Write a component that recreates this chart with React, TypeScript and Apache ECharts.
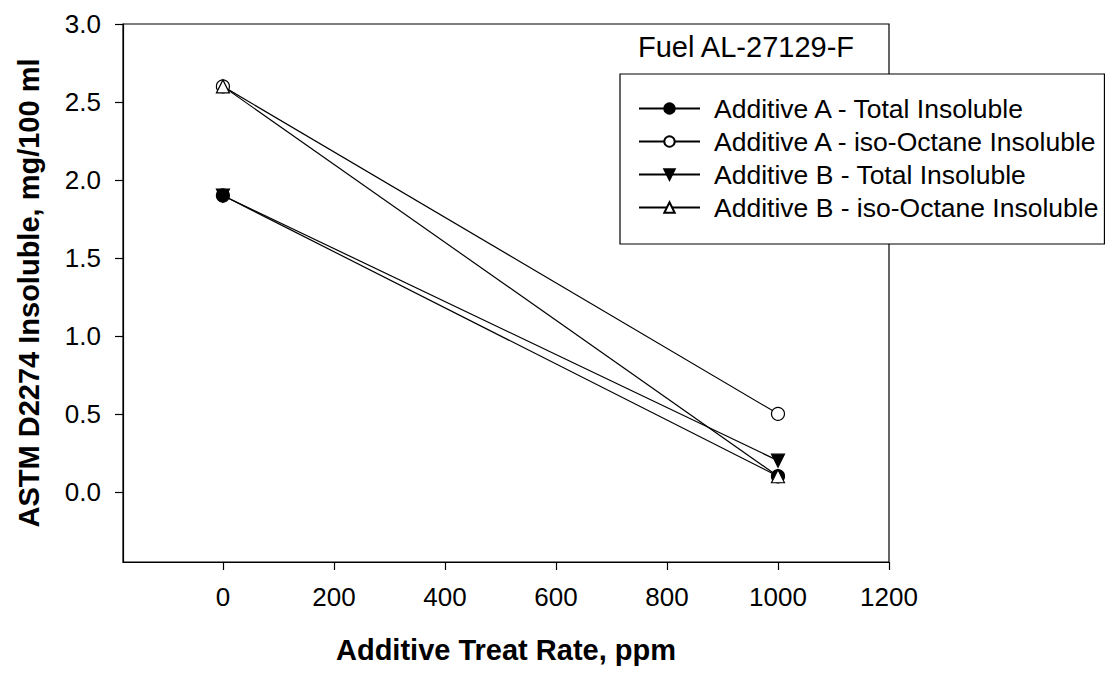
import React, { useEffect, useRef } from "react";
import * as echarts from "echarts";

const treatRates = [0, 1000];
const additiveATotal = [1.9, 0.1];
const additiveAIso = [2.6, 0.5];
const additiveBTotal = [1.9, 0.2];
const additiveBIso = [2.6, 0.1];
const xTicks = [0, 200, 400, 600, 800, 1000, 1200];
const yTicks = [0, 0.5, 1.0, 1.5, 2.0, 2.5, 3.0];
const seriesNames = [
  "Additive A - Total Insoluble",
  "Additive A - iso-Octane Insoluble",
  "Additive B - Total Insoluble",
  "Additive B - iso-Octane Insoluble",
];
const fuelLabel = "Fuel AL-27129-F";

const FONT = "'Liberation Sans', Arial, sans-serif";

export default function App() {
  const ref = useRef<HTMLDivElement>(null);
  useEffect(() => {
    if (!ref.current) return;
    const chart = echarts.init(ref.current, undefined, { renderer: "svg" });
    const pair = (ys: number[]) => treatRates.map((x, i) => [x, ys[i]]);
    const invTri = "path://M0,0 L10,0 L5,9 Z";
    const mk = (name: string, data: number[], symbol: string, fill: string, size: number) => ({
      name,
      type: "line",
      data: pair(data),
      symbol,
      symbolSize: size,
      showAllSymbol: true,
      lineStyle: { color: "#000", width: 1.2 },
      itemStyle: { color: fill, borderColor: "#000", borderWidth: 1.2 },
      emphasis: { disabled: true },
    });
    chart.setOption({
      animation: false,
      backgroundColor: "#fff",
      textStyle: { fontFamily: FONT },
      grid: {
        left: 123,
        right: 216,
        top: 24,
        bottom: 111,
        show: true,
        borderColor: "#000",
        borderWidth: 1.2,
        backgroundColor: "transparent",
      },
      xAxis: {
        type: "value",
        min: -180,
        max: 1200,
        name: "Additive Treat Rate, ppm",
        nameLocation: "middle",
        nameGap: 73,
        nameTextStyle: { fontSize: 29, fontWeight: "bold", color: "#000", fontFamily: FONT },
        axisLine: { onZero: false, lineStyle: { color: "#000", width: 1.2 } },
        axisTick: { show: true, inside: false, length: 8, lineStyle: { color: "#000", width: 1.2 }, customValues: xTicks },
        axisLabel: {
          customValues: xTicks,
          fontSize: 26,
          color: "#000",
          margin: 22,
          fontFamily: FONT,
          formatter: (v: number) => String(v),
        },
        splitLine: { show: false },
      },
      yAxis: {
        type: "value",
        min: -0.45,
        max: 3.0,
        name: "ASTM D2274 Insoluble, mg/100 ml",
        nameLocation: "middle",
        nameGap: 80,
        nameTextStyle: { fontSize: 29, fontWeight: "bold", color: "#000", fontFamily: FONT },
        axisLine: { onZero: false, lineStyle: { color: "#000", width: 1.2 } },
        axisTick: { show: true, inside: false, length: 8, lineStyle: { color: "#000", width: 1.2 }, customValues: yTicks },
        axisLabel: {
          customValues: yTicks,
          fontSize: 26,
          color: "#000",
          margin: 22,
          fontFamily: FONT,
          formatter: (v: number) => v.toFixed(1),
        },
        splitLine: { show: false },
      },
      legend: {
        orient: "vertical",
        left: 620,
        top: 74,
        backgroundColor: "#fff",
        borderColor: "#000",
        borderWidth: 1.2,
        borderRadius: 0,
        padding: [21, 6, 23, 18],
        itemWidth: 61,
        itemHeight: 13,
        itemGap: 6,
        selectedMode: false,
        textStyle: { fontSize: 26.5, color: "#000", lineHeight: 26.5, padding: [0, 0, 0, 9], fontFamily: FONT },
        data: seriesNames,
        z: 10,
      },
      graphic: [
        {
          type: "text",
          x: 638,
          y: 47,
          z: 5,
          style: { text: fuelLabel, font: `29px ${FONT}`, fill: "#000", verticalAlign: "middle", align: "left" },
        },
      ],
      series: [
        mk(seriesNames[0], additiveATotal, "circle", "#000", 13),
        mk(seriesNames[1], additiveAIso, "circle", "#fff", 13),
        mk(seriesNames[2], additiveBTotal, invTri, "#000", 13),
        mk(seriesNames[3], additiveBIso, "triangle", "#fff", 13),
      ],
    });
    return () => chart.dispose();
  }, []);
  return <div ref={ref} style={{ width: 1105, height: 673, position: "absolute", left: 0, top: 0 }} />;
}
